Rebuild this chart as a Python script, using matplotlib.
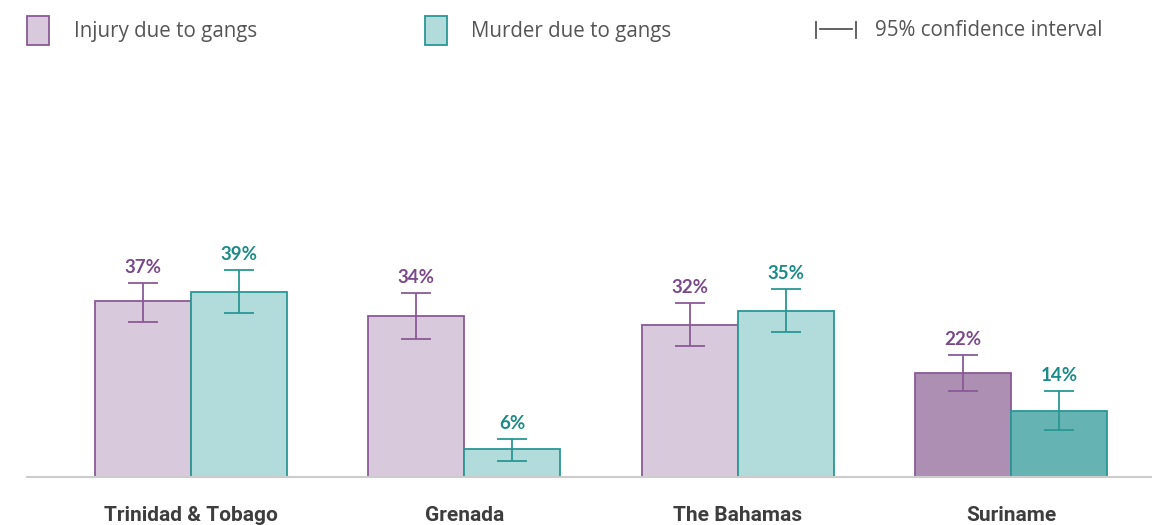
import numpy as np
import matplotlib.pyplot as plt
from matplotlib.patches import Rectangle
from matplotlib.lines import Line2D

# Data
countries = ['Trinidad & Tobago', 'Grenada', 'The Bahamas', 'Suriname']
injury = [37, 34, 32, 22]
murder = [39, 6, 35, 14]
injury_lo = [32.6, 29.1, 27.6, 18.1]
injury_hi = [40.8, 38.7, 36.6, 25.7]
murder_lo = [34.5, 3.4, 30.5, 9.9]
murder_hi = [43.6, 8.0, 39.6, 18.1]

# Colours
INJ_FILL = '#d9c9dc'
INJ_FILL_DARK = '#ae8fb4'
INJ_EDGE = '#8a5a96'
INJ_TEXT = '#7b4a8b'
MUR_FILL = '#b2dbdb'
MUR_FILL_DARK = '#66b3b3'
MUR_EDGE = '#2a9793'
MUR_TEXT = '#1c8b87'
GREY_TEXT = '#555555'

W, H = 1152, 525
fig = plt.figure(figsize=(W / 100, H / 100), dpi=100)

# axes placed in pixel terms: baseline at y=477, left edge x=27
top_px, base_px = 62, 477
ax = fig.add_axes([27 / W, (H - base_px) / H, (W - 27) / W, (base_px - top_px) / H])

x = np.arange(len(countries))
bw = 0.351
inj_fill = [INJ_FILL] * 3 + [INJ_FILL_DARK]
mur_fill = [MUR_FILL] * 3 + [MUR_FILL_DARK]

ax.bar(x - bw / 2, injury, bw, color=inj_fill, edgecolor=INJ_EDGE, linewidth=1.3, zorder=2)
ax.bar(x + bw / 2, murder, bw, color=mur_fill, edgecolor=MUR_EDGE, linewidth=1.3, zorder=2)

inj_err = [np.array(injury) - np.array(injury_lo), np.array(injury_hi) - np.array(injury)]
mur_err = [np.array(murder) - np.array(murder_lo), np.array(murder_hi) - np.array(murder)]
ax.errorbar(x - bw / 2, injury, yerr=inj_err, fmt='none', ecolor=INJ_EDGE,
            elinewidth=1.3, capsize=11, capthick=1.3, zorder=3)
ax.errorbar(x + bw / 2, murder, yerr=mur_err, fmt='none', ecolor=MUR_EDGE,
            elinewidth=1.3, capsize=11, capthick=1.3, zorder=3)

for i in range(len(countries)):
    ax.annotate(f'{injury[i]}%', (x[i] - bw / 2, injury_hi[i]), xytext=(0, 5),
                textcoords='offset points', ha='center', va='bottom',
                color=INJ_TEXT, fontsize=13.5, fontweight='bold', family='Lato')
    ax.annotate(f'{murder[i]}%', (x[i] + bw / 2, murder_hi[i]), xytext=(0, 5),
                textcoords='offset points', ha='center', va='bottom',
                color=MUR_TEXT, fontsize=13.5, fontweight='bold', family='Lato')

ax.set_xlim(-0.6, 3.516)
ax.set_ylim(0, (base_px - top_px) / 4.75)
ax.set_xticks(x)
ax.set_xticklabels(countries, fontsize=15, fontweight='bold', family='Roboto', color='#3d3d3d')
ax.tick_params(axis='x', length=0, pad=21)
ax.set_yticks([])
for s in ['top', 'right', 'left']:
    ax.spines[s].set_visible(False)
ax.spines['bottom'].set_color('#cccccc')
ax.spines['bottom'].set_linewidth(1.5)
ax.patch.set_alpha(0)

# Legend drawn by hand across the top
def px(xp, yp):
    return xp / W, 1 - yp / H

def legend_box(x0, fill, edge, label, tx):
    fig.patches.append(Rectangle(px(x0, 45), 22 / W, 29 / H, transform=fig.transFigure,
                                 facecolor=fill, edgecolor=edge, linewidth=1.3))
    fig.text(*px(tx, 31), label, fontsize=14.8, color=GREY_TEXT, family='Open Sans', va='center')

legend_box(27, INJ_FILL, INJ_EDGE, 'Injury due to gangs', 74)
legend_box(425, MUR_FILL, MUR_EDGE, 'Murder due to gangs', 471)

ci_color = '#555555'
for seg in [((816, 816), (22, 38)), ((856, 856), (22, 38)), ((820, 852), (29, 29))]:
    xs = [v / W for v in seg[0]]
    ys = [1 - v / H for v in seg[1]]
    fig.lines.append(Line2D(xs, ys, transform=fig.transFigure, color=ci_color, linewidth=1.3))
fig.text(*px(875, 31), '95% confidence interval', fontsize=14.8, color=GREY_TEXT,
         family='Open Sans', va='center')

fig.savefig('out.png', dpi=100)
